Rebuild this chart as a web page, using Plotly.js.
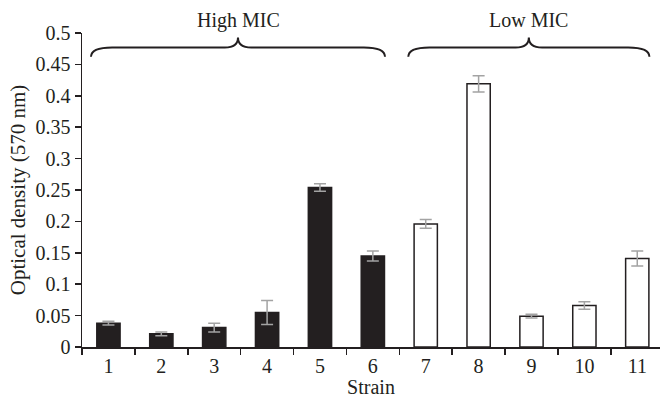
<!DOCTYPE html>
<html>
<head>
<meta charset="utf-8">
<script src="https://cdn.plot.ly/plotly-3.0.1.min.js"></script>
<style>html,body{margin:0;padding:0;background:#fff;}#chart{width:660px;height:398px;}</style>
</head>
<body>
<div id="chart"></div>
<script>
// ---- data ----
const strains = [1, 2, 3, 4, 5, 6, 7, 8, 9, 10, 11];
const density = [0.038, 0.021, 0.031, 0.055, 0.254, 0.145, 0.196, 0.419, 0.049, 0.066, 0.141];
const errors  = [0.003, 0.003, 0.007, 0.019, 0.006, 0.008, 0.007, 0.013, 0.003, 0.006, 0.012];
const groups  = ['High', 'High', 'High', 'High', 'High', 'High', 'Low', 'Low', 'Low', 'Low', 'Low'];
const groupLabels = {High: 'High MIC', Low: 'Low MIC'};
const yTickVals = [0, 0.05, 0.1, 0.15, 0.2, 0.25, 0.3, 0.35, 0.4, 0.45, 0.5];
const yTickText = ['0', '0.05', '0.1', '0.15', '0.2', '0.25', '0.3', '0.35', '0.4', '0.45', '0.5'];

// ---- styling ----
const ink = '#231f20';
const font = {family: 'Liberation Serif, Times New Roman, serif', size: 20, color: ink};
const fillFor = {High: ink, Low: '#ffffff'};
const yMax = 0.5;

const boundaries = strains.map(s => s - 0.5).concat([strains[strains.length - 1] + 0.5]);

const trace = {
  type: 'bar',
  x: strains,
  y: density,
  width: 0.44,
  marker: {color: groups.map(g => fillFor[g]), line: {color: ink, width: 1.5}},
  error_y: {type: 'data', array: errors, visible: true, color: '#a3a3a3', thickness: 1.5, width: 6},
  hoverinfo: 'x+y'
};

// braces over each group
function bracePath(x0, x1, yEnd, yLine, yTip) {
  const xm = (x0 + x1) / 2;
  const d = 0.4, dt = 0.25;
  return `M ${x0},${yEnd} Q ${x0},${yLine} ${x0 + d},${yLine} L ${xm - dt},${yLine} Q ${xm},${yLine} ${xm},${yTip} ` +
         `Q ${xm},${yLine} ${xm + dt},${yLine} L ${x1 - d},${yLine} Q ${x1},${yLine} ${x1},${yEnd}`;
}
const shapes = [];
const annotations = [];
['High', 'Low'].forEach(g => {
  const xs = strains.filter((s, i) => groups[i] === g);
  const x0 = Math.min(...xs) - 0.33, x1 = Math.max(...xs) + 0.23;
  shapes.push({type: 'path', xref: 'x', yref: 'y', path: bracePath(x0, x1, 0.462, 0.477, 0.493),
               line: {color: ink, width: 2}});
  annotations.push({xref: 'x', yref: 'paper', x: (x0 + x1) / 2, y: 0.52 / yMax, yanchor: 'middle', xanchor: 'center',
                    text: groupLabels[g], showarrow: false, font: font});
});

const layout = {
  width: 660, height: 398,
  margin: {l: 82, r: 0, t: 33, b: 51, pad: 0},
  paper_bgcolor: '#fff', plot_bgcolor: '#fff',
  font: font,
  showlegend: false,
  xaxis: {
    range: [0.5, 11.43],
    tickmode: 'array', tickvals: strains, ticktext: strains.map(String),
    ticks: '',
    minor: {tickmode: 'array', tickvals: boundaries, ticks: 'outside', ticklen: 6, tickwidth: 1.5, tickcolor: ink, showgrid: false},
    showline: true, linecolor: ink, linewidth: 1.5,
    showgrid: false, zeroline: false,
    title: {text: 'Strain', font: font, standoff: 15},
    tickfont: font
  },
  yaxis: {
    range: [0, yMax],
    tickmode: 'array', tickvals: yTickVals, ticktext: yTickText,
    ticks: 'outside', ticklen: 6, tickwidth: 1.5, tickcolor: ink,
    showline: true, linecolor: ink, linewidth: 1.5,
    showgrid: false, zeroline: false,
    title: {text: 'Optical density (570 nm)', font: {family: font.family, size: 21, color: ink}, standoff: 4},
    tickfont: font
  },
  shapes: shapes,
  annotations: annotations
};

Plotly.newPlot('chart', [trace], layout, {displayModeBar: false, staticPlot: true});
</script>
</body>
</html>
